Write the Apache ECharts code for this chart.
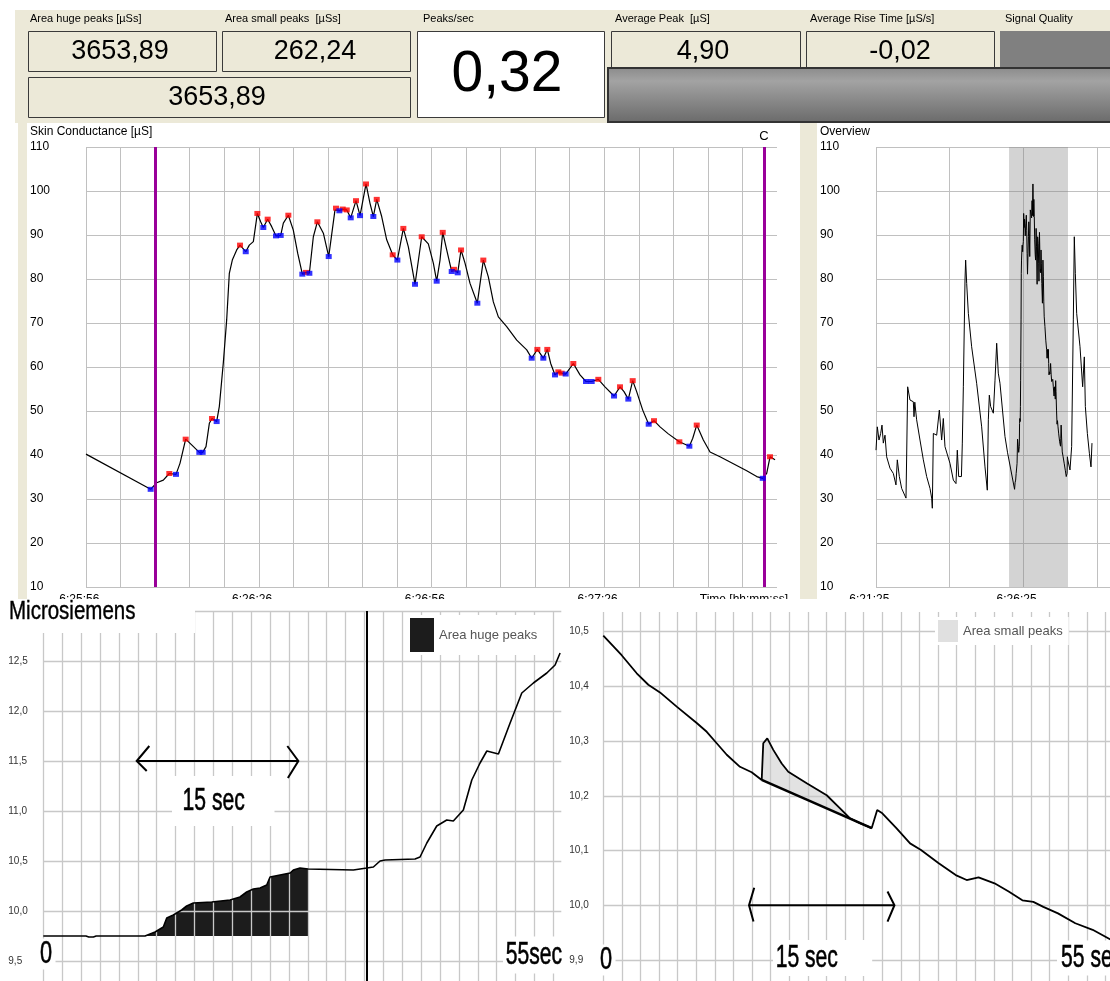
<!DOCTYPE html>
<html><head><meta charset="utf-8">
<script src="https://cdn.jsdelivr.net/npm/echarts@6.0.0/dist/echarts.min.js"></script>
<style>html,body{margin:0;padding:0;background:#fff}#c{width:1110px;height:981px}</style>
</head><body><div id="c"></div>
<script>
// ---------------- DATA ----------------
const hdrLabels = ['Area huge peaks [µSs]', 'Area small peaks  [µSs]', 'Peaks/sec', 'Average Peak  [µS]', 'Average Rise Time [µS/s]', 'Signal Quality'];
const hdrValues = ['3653,89', '262,24', '0,32', '4,90', '-0,02'];
const hugeTotal = '3653,89';

const mainStart = '6:25:56';
const ovStart = '6:21:25';
const mainXLabelVals = [0, 30, 60, 90];
const ovXLabelVals = [0, 300];

// main window (seconds from 6:25:56, µS)
const mainT = [0,11.23,12.27,13.43,14.47,15.63,16.32,17.31,18.35,19.68,20.26,20.84,21.42,21.88,22.69,23.15,23.57,23.85,24.43,24.89,25.41,26.17,26.75,27.74,28.36,29.06,29.76,30.33,30.79,31.55,32.25,33.0,33.81,34.27,35.14,36.0,36.77,37.57,38.21,38.79,39.48,40.18,41.22,42.15,43.24,43.42,44.0,44.58,45.28,45.97,46.89,47.59,48.63,49.32,49.9,50.49,51.35,52.22,53.26,54.07,55.11,55.98,57.14,58.3,59.45,60.32,60.9,61.48,61.95,62.64,63.51,63.91,64.55,65.13,65.82,66.69,67.96,69.0,69.87,70.74,71.61,73.06,74.8,76.54,77.4,78.38,79.42,80.11,80.7,81.45,82.03,82.61,83.3,84.63,85.79,86.83,87.82,88.97,90.13,91.7,92.74,93.43,94.18,94.94,95.63,96.68,97.72,98.64,99.69,101.13,103.04,104.78,105.37,106.06,107.21,108.37,110.1,112.42,114.74,116.48,117.52,118.21,118.79,119.66];
const mainV = [40.2,32.2,33.7,34.3,35.8,35.6,38.1,43.6,42.3,40.6,40.6,41.9,47.2,48.3,47.6,51.0,57.0,61.0,70.7,81.3,84.3,86.6,87.7,86.2,87.7,88.5,94.9,93.0,91.7,93.6,91.9,89.8,89.9,92.7,94.5,91.1,85.8,81.1,81.5,81.3,89.6,93.0,90.4,85.1,95.7,96.1,95.5,95.9,95.7,93.9,97.8,94.4,101.6,97.2,94.2,98.1,94.2,88.9,85.5,84.3,91.5,87.3,78.8,89.6,88.0,83.6,79.5,84.3,90.6,86.6,81.7,82.2,81.4,86.6,83.6,79.0,74.5,84.3,80.5,74.8,71.4,69.2,66.1,63.9,62.0,64.0,62.0,64.0,60.8,58.2,58.9,58.6,58.4,60.8,58.2,56.7,56.7,57.2,55.5,53.4,55.5,54.4,52.7,56.9,54.4,50.2,47.0,47.8,46.4,44.8,43.0,42.0,43.8,46.8,43.4,40.7,39.6,38.0,36.4,35.1,34.7,35.8,39.6,38.9];
const peakT = [14.47,17.31,21.88,26.75,29.76,31.55,35.14,38.21,40.18,43.42,44.58,45.28,46.89,48.63,50.49,53.26,55.11,58.3,61.95,63.91,65.13,69.0,78.38,80.11,82.03,82.61,84.63,88.97,92.74,94.94,98.64,103.04,106.06,118.79];
const troughT = [11.23,15.63,19.68,20.26,22.69,27.74,30.79,33.0,33.81,37.57,38.79,42.15,44.0,45.97,47.59,49.9,54.07,57.14,60.9,63.51,64.55,67.96,77.4,79.42,81.45,83.3,86.83,87.82,91.7,94.18,97.72,104.78,117.52];
const cursorT = [12.0, 117.75];

// overview (seconds from 6:21:25) outside the main window
const ovBefore = [[0,41.1],[2.7,46.4],[6.1,43.4],[9.5,44.9],[12.2,46.8],[14.9,42.7],[18.3,44.5],[21.7,39.6],[28.5,37.0],[35.3,35.8],[40.7,33.2],[43.4,38.9],[47.5,35.1],[52.3,32.4],[61.1,30.2],[62.5,40.0],[64.5,55.5],[69.2,52.5],[76.0,52.1],[77.4,48.7],[79.0,52.0],[82.8,48.0],[89.6,43.4],[96.4,38.9],[103.2,35.1],[110.0,32.4],[113.4,30.2],[114.7,27.9],[116.8,44.9],[123.6,44.5],[129.0,50.2],[133.7,43.4],[137.1,48.3],[140.5,41.9],[150.7,38.1],[157.5,34.3],[162.9,33.5],[165.6,41.1],[168.4,35.1],[174.0,35.1],[175.8,42.7],[177.9,55.5],[181.3,79.8],[182.6,84.3],[184.7,79.0],[188.1,72.2],[194.8,64.6],[205.0,56.3],[215.2,46.4],[222.0,37.3],[226.7,32.0],[228.8,48.0],[230.8,53.6],[233.5,51.0],[239.0,49.5],[242.4,57.0],[245.8,65.4],[249.1,58.6],[252.5,56.3],[262.7,44.2],[268.0,40.5]];
const ovAfter = [[395.1,36.6],[398.5,41.9],[401.9,70.7],[403.9,89.6],[406.0,81.3],[408.7,72.2],[415.5,64.6],[420.9,55.5],[424.3,62.3],[426.4,51.0],[430.5,44.9],[434.6,40.4],[437.9,37.3],[439.9,42.7]];

// bottom-left photo (seconds, µS)
const microLeft = [[0,9.75],[4.6,9.75],[4.9,9.74],[5.4,9.74],[5.7,9.75],[10.97,9.75],[12.05,9.79],[12.94,9.84],[13.31,9.93],[14.02,9.96],[14.92,10.01],[15.46,10.05],[16.18,10.08],[18.16,10.09],[20.13,10.11],[21.21,10.14],[21.93,10.19],[22.65,10.22],[23.37,10.23],[24.09,10.26],[24.45,10.34],[25.53,10.36],[26.61,10.38],[26.96,10.41],[27.68,10.43],[28.55,10.42],[33.43,10.41],[34.88,10.43],[35.59,10.44],[36.31,10.5],[36.85,10.51],[40.08,10.52],[40.62,10.54],[41.35,10.68],[42.42,10.85],[43.5,10.91],[44.21,10.9],[45.29,11.01],[46.2,11.31],[47.09,11.48],[47.82,11.6],[49.07,11.57],[50.33,11.88],[51.59,12.18],[52.84,12.28],[54.29,12.38],[55.18,12.46],[55.72,12.58]];
const hugeRange = [10.97, 28.55];
const hugeBase = 9.75;
const leftMarkerT = [34.88];
const spanLeftShaft = [[10.07,11.5],[27.5,11.5]];
const spanLeftHeadL = [[11.43,11.65],[10.07,11.5],[11.15,11.40]];
const spanLeftHeadR = [[26.31,11.65],[27.5,11.5],[26.37,11.33]];

// bottom-right photo (seconds, µS)
const microRight = [[0,10.493],[2.01,10.457],[3.66,10.424],[4.93,10.403],[6.21,10.389],[8.04,10.363],[10.23,10.333],[11.33,10.317],[12.42,10.296],[13.52,10.275],[14.97,10.253],[16.25,10.243],[17.35,10.229],[17.52,10.296],[17.96,10.305],[18.62,10.284],[19.54,10.259],[20.26,10.244],[22.28,10.223],[24.47,10.201],[25.93,10.177],[27.0,10.159],[28.1,10.15],[29.4,10.141],[30.0,10.174],[30.56,10.168],[32.1,10.141],[33.6,10.113],[34.8,10.101],[36.7,10.077],[38.6,10.055],[39.8,10.046],[41.1,10.051],[42.85,10.04],[44.4,10.025],[45.9,10.009],[47.1,10.006],[48.2,9.997],[49.8,9.985],[51.7,9.967],[53.6,9.955],[55.6,9.937]];
const smallBaseline = [[17.35,10.229],[29.4,10.141]];
const spanRightShaft = [[15.96,10.0],[31.89,10.0]];
const spanRightHeadL = [[16.53,10.032],[15.96,10.0],[16.45,9.970]];
const spanRightHeadR = [[31.13,10.025],[31.89,10.0],[31.13,9.970]];

// ---------------- HELPERS ----------------
const SANS = "'Liberation Sans', Arial, sans-serif";
const BEIGE = '#ECE9D8';
const GRIDC = '#c0c0c0';
const PGRID = '#c8c8c8';
function toSec(s){const p=s.split(':').map(Number);return p[0]*3600+p[1]*60+p[2];}
function fmtSec(n){const h=Math.floor(n/3600),m=Math.floor(n%3600/60),s=Math.round(n%60);return h+':'+String(m).padStart(2,'0')+':'+String(s).padStart(2,'0');}
const winOffset = toSec(mainStart) - toSec(ovStart);
const comma = v => (Math.round(v*10)/10).toFixed(1).replace('.', ',');
const near = (a,b) => Math.abs(a-b) < 1e-6;

const mainData = mainT.map((t,i) => [t, mainV[i]]);
const peakData = peakT.map(t => [t, mainV[mainT.indexOf(t)]]);
const troughData = troughT.map(t => [t, mainV[mainT.indexOf(t)]]);
const ovData = ovBefore.concat(mainT.map((t,i) => [t + winOffset, mainV[i]]), ovAfter);
const hugePoly = microLeft.filter(p => p[0] >= hugeRange[0] && p[0] <= hugeRange[1])
  .concat([[hugeRange[1], hugeBase], [hugeRange[0], hugeBase]]);
const smallPoly = microRight.filter(p => p[0] >= smallBaseline[0][0] && p[0] <= smallBaseline[1][0])
  .concat(smallBaseline.slice().reverse());

// ---------------- GRAPHICS (panels / text boxes) ----------------
const G = [];
function rect(x,y,w,h,fill,stroke,lw,z,zl){G.push({type:'rect',silent:true,z:z||0,zlevel:zl||0,shape:{x,y,width:w,height:h},style:{fill,stroke:stroke||null,lineWidth:lw||0}});}
function txt(x,y,t,font,extra,z,zl,sx){G.push({type:'text',silent:true,z:z||10,zlevel:zl||0,x,y,scaleX:sx||1,style:Object.assign({text:t,font,fill:'#000',align:'left',verticalAlign:'middle'},extra||{})});}
const heavy = (o) => Object.assign({stroke:'#000',lineWidth:0.6}, o);

// header
rect(15,10,1095,113,BEIGE);
rect(18,123,9,477,BEIGE);
rect(800,123,17,477,BEIGE);
const lblX = [30,225,423,615,810,1005];
hdrLabels.forEach((l,i)=>txt(lblX[i],19,l,'11px '+SANS,{fill:'#000'}));
rect(28.5,31.5,188,40,BEIGE,'#3a3a3a',1);
rect(222.5,31.5,188,40,BEIGE,'#3a3a3a',1);
rect(28.5,77.5,382,40,BEIGE,'#3a3a3a',1);
rect(417.5,31.5,187,86,'#ffffff','#3a3a3a',1);
rect(611.5,31.5,189,40,BEIGE,'#3a3a3a',1);
rect(806.5,31.5,188,40,BEIGE,'#3a3a3a',1);
rect(1000,31,110,39,'#808080');
G.push({type:'rect',silent:true,z:1,shape:{x:608,y:68,width:503,height:54},style:{stroke:'#333',lineWidth:2,fill:{type:'linear',x:0,y:0,x2:0,y2:1,colorStops:[{offset:0,color:'#8a8a8a'},{offset:0.25,color:'#a3a3a3'},{offset:1,color:'#6a6a6a'}]}}});
txt(120,52,hdrValues[0],'27px '+SANS,{align:'center'});
txt(315,52,hdrValues[1],'27px '+SANS,{align:'center'});
txt(217,98,hugeTotal,'27px '+SANS,{align:'center'});
txt(507,75,hdrValues[2],'57px '+SANS,{align:'center'});
txt(703,52,hdrValues[3],'27px '+SANS,{align:'center'});
txt(900,52,hdrValues[4],'27px '+SANS,{align:'center'});
txt(30,132,'Skin Conductance [µS]','12px '+SANS);
txt(820,132,'Overview','12px '+SANS);

// bottom photo panels (zlevel 1 covers the lower part of the screen chart)
rect(0,599,1110,382,'#ffffff',null,0,-5,1);
rect(0,599,195,34,'#ffffff',null,0,6,1);
txt(9,612,'Microsiemens','25px '+SANS,{stroke:'#000',lineWidth:0.4},10,1,0.82);
txt(46,954,'0','31px '+SANS,heavy({align:'center',backgroundColor:'#fff',padding:[0,5]}),10,1,0.7);
txt(503,955,'55sec','31px '+SANS,heavy({backgroundColor:'#fff',padding:[3,4]}),10,1,0.68);
txt(172,801,'15 sec','32px '+SANS,heavy({backgroundColor:'#fff',padding:[9,45,9,16]}),10,1,0.66);
txt(606,960,'0','31px '+SANS,heavy({align:'center',backgroundColor:'#fff',padding:[0,5]}),10,1,0.7);
txt(773,958,'15 sec','32px '+SANS,heavy({backgroundColor:'#fff',padding:[2,52,2,4]}),10,1,0.66);
txt(1057,958,'55 sec','31px '+SANS,heavy({backgroundColor:'#fff',padding:[2,6]}),10,1,0.68);

// ---------------- CHART ----------------
const chart = echarts.init(document.getElementById('c'), null, {renderer:'canvas'});

function screenY(gi){return {type:'value',gridIndex:gi,min:10,max:110,interval:10,axisLine:{show:false},axisTick:{show:false},
  splitLine:{show:true,lineStyle:{color:GRIDC,width:1}},axisLabel:{align:'left',margin:56,color:'#000',fontSize:12,fontFamily:SANS}};}
function photoY(gi,min,max,itv,margin){return {type:'value',gridIndex:gi,min,max,interval:itv,zlevel:1,z:3,axisLine:{show:false},axisTick:{show:false},
  splitLine:{show:true,showMaxLine:(gi===2),lineStyle:{color:PGRID,width:1.3}},
  axisLabel:{align:'left',margin,color:'#333',fontSize:10,fontFamily:SANS,formatter:comma,showMinLabel:false,showMaxLabel:false}};}
function photoX(gi,max){return {type:'value',gridIndex:gi,min:0,max,interval:55/27,zlevel:1,z:3,axisLine:{show:false},axisTick:{show:false},axisLabel:{show:false},
  splitLine:{show:true,showMaxLine:false,lineStyle:{color:PGRID,width:1.3}}};}
function spanSeries(xi,yi,parts){return {type:'lines',coordinateSystem:'cartesian2d',xAxisIndex:xi,yAxisIndex:yi,polyline:true,silent:true,zlevel:1,z:5,
  lineStyle:{color:'#000',width:2,opacity:1},data:parts.map(c=>({coords:c}))};}
function polySeries(name,xi,yi,pts,fill){return {type:'custom',name,xAxisIndex:xi,yAxisIndex:yi,zlevel:1,z:2,silent:true,itemStyle:{color:fill},data:[pts[0]],
  renderItem:(params,api)=>({type:'polygon',shape:{points:pts.map(p=>api.coord(p))},style:{fill}})};}

const option = {
  animation:false,
  backgroundColor:'#ffffff',
  textStyle:{fontFamily:SANS},
  graphic:{elements:G},
  legend:[
    {zlevel:1,z:10,left:406,top:615,data:[{name:'Area huge peaks',itemStyle:{color:'#1c1c1c'}}],icon:'rect',itemWidth:24,itemHeight:34,padding:[3,8,3,4],
     backgroundColor:'#fff',selectedMode:false,textStyle:{fontFamily:SANS,fontSize:13,color:'#555'}},
    {zlevel:1,z:10,left:935,top:617,data:[{name:'Area small peaks',itemStyle:{color:'#e0e0e0'}}],icon:'rect',itemWidth:20,itemHeight:22,padding:[3,6,3,3],
     backgroundColor:'#fff',selectedMode:false,textStyle:{fontFamily:SANS,fontSize:13,color:'#555'}}
  ],
  grid:[
    {left:86,top:147,width:691,height:440,outerBoundsMode:'none'},
    {left:876,top:147,width:234,height:440,outerBoundsMode:'none'},
    {left:43.3,top:611,width:518,height:400,zlevel:1,outerBoundsMode:'none'},
    {left:603.3,top:612,width:547.8,height:402.6,zlevel:1,outerBoundsMode:'none'}
  ],
  xAxis:[
    {type:'value',gridIndex:0,min:0,max:120,interval:6,axisLine:{show:false},axisTick:{show:false},
     splitLine:{show:true,showMaxLine:false,lineStyle:{color:GRIDC,width:1}},
     axisLabel:{color:'#000',fontSize:12,margin:7,showMaxLabel:false,formatter:v=>mainXLabelVals.some(x=>near(x,v))?fmtSec(toSec(mainStart)+v)+' ...':''},
     name:'Time [hh:mm:ss]',nameLocation:'end',nameGap:11,nameTextStyle:{align:'right',verticalAlign:'top',padding:[7,0,0,0],fontSize:12,color:'#000'}},
    {type:'value',gridIndex:1,min:0,max:476.6,interval:150,axisLine:{show:false},axisTick:{show:false},
     splitLine:{show:true,showMaxLine:false,lineStyle:{color:GRIDC,width:1}},
     axisLabel:{color:'#000',fontSize:12,margin:7,showMaxLabel:false,formatter:v=>ovXLabelVals.some(x=>near(x,v))?fmtSec(toSec(ovStart)+v)+' ...':''}},
    photoX(2,55.85),
    photoX(3,60)
  ],
  yAxis:[
    screenY(0), screenY(1),
    photoY(2,9,13,0.5,35),
    photoY(3,9.8,10.536,0.1,34)
  ],
  series:[
    {type:'line',xAxisIndex:0,yAxisIndex:0,data:mainData,symbol:'none',silent:true,lineStyle:{color:'#000',width:1.2},
     markLine:{silent:true,symbol:'none',z:5,label:{show:false},lineStyle:{color:'#990099',width:3,type:'solid'},
       data:cursorT.map((t,i)=>i===1?{xAxis:t,label:{show:true,formatter:'C',position:'end',distance:4,color:'#000',fontSize:13}}:{xAxis:t})}},
    {type:'scatter',xAxisIndex:0,yAxisIndex:0,data:peakData,symbol:'rect',symbolSize:[6,5],itemStyle:{color:'#ff0000'},z:5,silent:true},
    {type:'scatter',xAxisIndex:0,yAxisIndex:0,data:troughData,symbol:'rect',symbolSize:[6,5],itemStyle:{color:'#0000ff'},z:5,silent:true},
    {type:'line',xAxisIndex:1,yAxisIndex:1,data:ovData,symbol:'none',silent:true,lineStyle:{color:'#000',width:1},
     markArea:{silent:true,itemStyle:{color:'rgba(128,128,128,0.35)'},data:[[{xAxis:winOffset},{xAxis:winOffset+120}]]}},
    polySeries('Area huge peaks',2,2,hugePoly,'#1c1c1c'),
    {type:'line',xAxisIndex:2,yAxisIndex:2,data:microLeft,symbol:'none',silent:true,zlevel:1,z:4,lineStyle:{color:'#000',width:1.6},
     markLine:{silent:true,zlevel:1,z:5,symbol:'none',label:{show:false},lineStyle:{color:'#000',width:2,type:'solid'},data:leftMarkerT.map(t=>({xAxis:t}))}},
    spanSeries(2,2,[spanLeftShaft,spanLeftHeadL,spanLeftHeadR]),
    polySeries('Area small peaks',3,3,smallPoly,'#e2e2e2'),
    {type:'line',xAxisIndex:3,yAxisIndex:3,data:microRight,symbol:'none',silent:true,zlevel:1,z:4,lineStyle:{color:'#000',width:1.8}},
    {type:'lines',coordinateSystem:'cartesian2d',xAxisIndex:3,yAxisIndex:3,polyline:true,silent:true,zlevel:1,z:4,
     lineStyle:{color:'#000',width:2.6,opacity:1},data:[{coords:smallBaseline}]},
    spanSeries(3,3,[spanRightShaft,spanRightHeadL,spanRightHeadR])
  ]
};
chart.setOption(option);
</script>
</body></html>
